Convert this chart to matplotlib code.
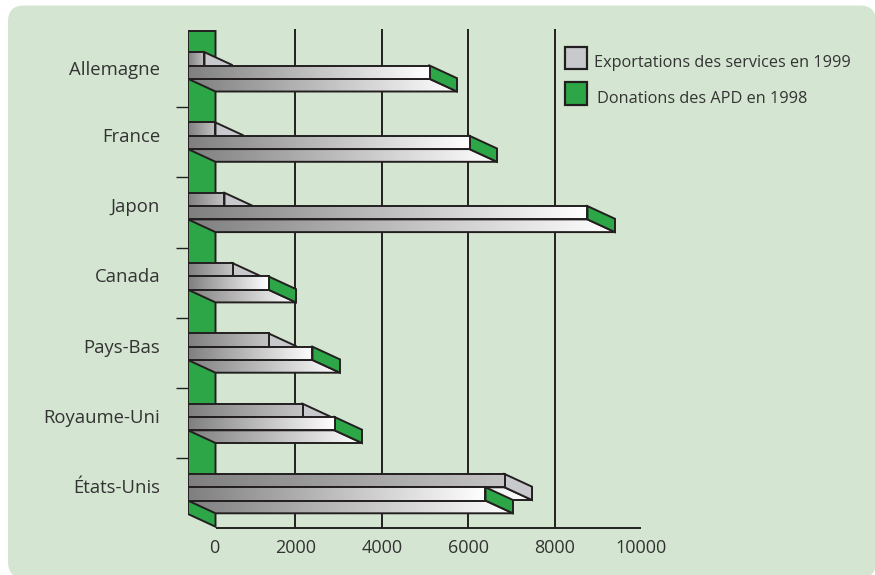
import numpy as np
import matplotlib
matplotlib.use('Agg')
import matplotlib.pyplot as plt
from matplotlib.colors import LinearSegmentedColormap
from matplotlib.patches import FancyBboxPatch, Patch, Polygon
from matplotlib.transforms import IdentityTransform, ScaledTranslation

countries = ['Allemagne', 'France', 'Japon', 'Canada', 'Pays-Bas', 'Royaume-Uni', 'États-Unis']
services_1999 = [532, 787, 995, 1181, 2014, 2801, 7477]
donations_1998 = [5741, 6667, 9398, 2014, 3032, 3542, 7037]
x_ticks = [0, 2000, 4000, 6000, 8000, 10000]
grid_ticks = [2000, 4000, 6000, 8000]

plt.rcParams['font.family'] = 'Open Sans'

INK = '#231f20'
GREEN = '#2ca646'
SILVER = '#c8c9cd'
PANEL = '#d4e6d1'
LW = 1.4

W, H = 875, 575
fig = plt.figure(figsize=(W / 100, H / 100), dpi=100, facecolor='white')

# rounded green panel behind everything, in pixels
fig.add_artist(FancyBboxPatch((8, -3), 868, 572.5, boxstyle='round,pad=0,rounding_size=16',
                              fc=PANEL, ec='none', transform=IdentityTransform(), zorder=-5,
                              mutation_aspect=1))

# pixel box of the plot, the scales come from it
left, right, top, bottom = 188, 641, 29, 528
ax = fig.add_axes([left / W, 1 - bottom / H, (right - left) / W, (bottom - top) / H])
ax.patch.set_alpha(0)
px_per_unit = 0.0432
px_per_row = 70.3
row0 = 65.5
x0 = 209
ax.set_xlim((left - x0) / px_per_unit, (right - x0) / px_per_unit)
ax.set_ylim((bottom - row0) / px_per_row, (top - row0) / px_per_row)
ax.set_autoscale_on(False)
for s in ax.spines.values():
    s.set_visible(False)

# 3d look: depth of the bars in data units
dx = 27.5 / px_per_unit
dy = 12.7 / px_per_row
bar_h = 13.3 / px_per_row
base = 6.5 / px_per_unit

gray_white = LinearSegmentedColormap.from_list('gw', ['#7f7f80', '#ffffff'])
gray_light = LinearSegmentedColormap.from_list('gl', ['#7f7f80', '#c4c4c4'])
ramp = np.linspace(0, 1, 256).reshape(1, -1)


def gradient_poly(pts, cmap, z):
    pts = np.array(pts)
    poly = Polygon(pts, closed=True, fc='none', ec=INK, lw=LW, zorder=z + 0.1, joinstyle='miter')
    ax.add_patch(poly)
    im = ax.imshow(ramp, cmap=cmap, aspect='auto', zorder=z, interpolation='bilinear',
                   extent=[pts[:, 0].min(), pts[:, 0].max(), pts[:, 1].max(), pts[:, 1].min()])
    im.set_clip_path(poly)


def flat_poly(pts, color, z):
    ax.add_patch(Polygon(pts, closed=True, fc=color, ec=INK, lw=LW, zorder=z, joinstyle='miter'))


def bar3d(value, y_top, side_color, front_cmap, z):
    xs = base - dx
    xe = value - dx
    yb = y_top + bar_h
    gradient_poly([(xs, yb), (xe, yb), (value, yb + dy), (base, yb + dy)], gray_white, z)
    flat_poly([(xe, y_top), (value, y_top + dy), (value, yb + dy), (xe, yb)], side_color, z + 0.2)
    gradient_poly([(xs, y_top), (xe, y_top), (xe, yb), (xs, yb)], front_cmap, z + 0.4)


# gridlines and floor
ax.vlines(grid_ticks, (bottom - row0) / px_per_row, (top - row0) / px_per_row, color=INK, lw=LW, zorder=1)
ax.hlines((bottom - row0) / px_per_row - 0.005, base, x_ticks[-1], color=INK, lw=LW, zorder=1, clip_on=False)

# left green wall
wall_top = (31 - row0) / px_per_row
wall_low = (514 - row0) / px_per_row
flat_poly([(base - dx, wall_top), (base, wall_top), (base, wall_low + dy), (base - dx, wall_low)], GREEN, 2)

for i in range(len(countries)):
    z = 3 + i * 2
    bar3d(services_1999[i], i - bar_h, SILVER, gray_light, z)
    bar3d(donations_1998[i], i, GREEN, gray_white, z + 1)

# axes ticks
ax.set_yticks(range(len(countries)), countries, fontsize=13.3, color='#333333')
ax.set_yticks(np.arange(len(countries) - 1) + 0.59, minor=True)
ax.tick_params(axis='y', which='major', length=0, pad=20)
ax.tick_params(axis='y', which='minor', length=8.5, width=1, color=INK)
for n, lab in enumerate(ax.get_yticklabels()):
    # the first label sits a little lower in the original
    shift = -1.8 if n == 0 else 0.7
    lab.set_transform(lab.get_transform() + ScaledTranslation(0, shift / 72, fig.dpi_scale_trans))
ax.set_xticks(x_ticks, [str(v) for v in x_ticks], fontsize=13, color='#333333')
ax.tick_params(axis='x', length=0, pad=8)
lab0 = ax.get_xticklabels()[0]
lab0.set_transform(lab0.get_transform() + ScaledTranslation(3.5 / 72, 0, fig.dpi_scale_trans))

handles = [Patch(fc=SILVER, ec=INK, lw=1.6), Patch(fc=GREEN, ec=INK, lw=1.6)]
leg = fig.legend(handles, ['Exportations des services en 1999', 'Donations des APD en 1998'],
                 loc='upper left', bbox_to_anchor=(565 / W, 1 - 47 / H), frameon=False,
                 fontsize=11.7, labelcolor='#333333', handlelength=1.35, handleheight=1.75,
                 handletextpad=0.43, labelspacing=0.8, borderpad=0, borderaxespad=0)
leg.get_texts()[0].set_position((0, -4))
leg.get_texts()[1].set_position((3, -4))

fig.savefig('out.png', dpi=100, facecolor='white')
